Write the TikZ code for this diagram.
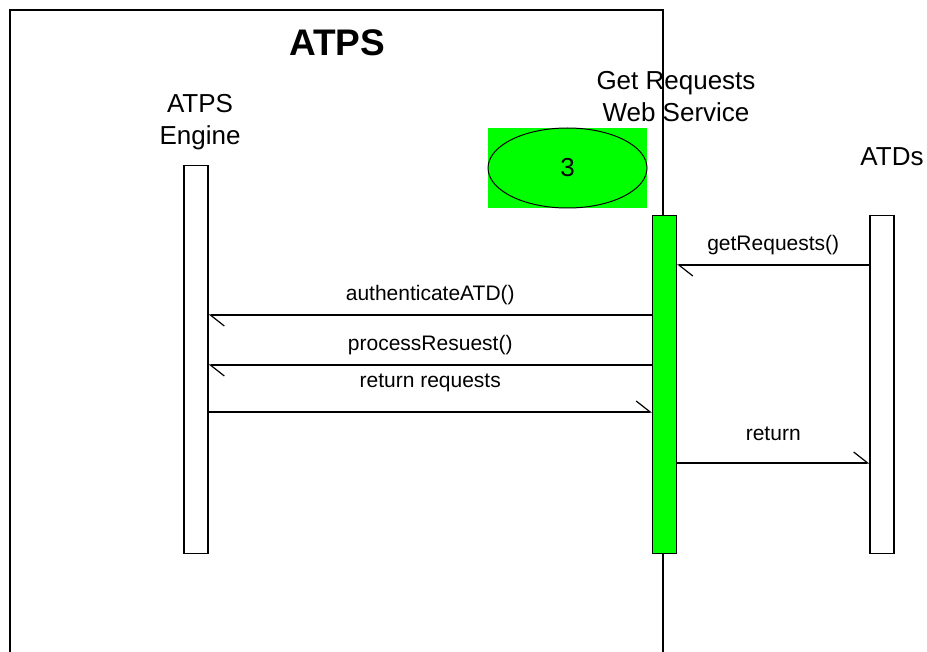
\documentclass[tikz,border=0pt]{standalone}
\usepackage{fontspec}
\setmainfont{Liberation Sans}
\usetikzlibrary{shapes.geometric, arrows.meta}
\definecolor{gwsgreen}{RGB}{0,255,0}

\begin{document}
\begin{tikzpicture}[
  x=1pt, y=-1pt,
  line width=1.2pt,
  lifeline/.style={
    draw, fill=white, anchor=north,
    minimum width=24pt, minimum height=388pt, inner sep=0pt
  },
  active/.style={lifeline, fill=gwsgreen, minimum height=338pt},
  msg/.style={-{Straight Barb[left, length=14pt, width=22pt]}},
  lbl/.style={font=\fontsize{21}{25}\selectfont, midway, yshift=20pt},
  head/.style={font=\fontsize{26}{32}\selectfont, align=center}
]
\useasboundingbox (0,0) rectangle (927,652);

% system frame, open at the bottom
\draw (10,652) -- (10,10) -- (663,10) -- (663,652);
\node[font=\bfseries\fontsize{37}{44}\selectfont] (title) at (337,43) {ATPS};

% heads
\node[head] (enginehead) at (200,122) {ATPS\\Engine};
\node[head] (gwshead) at (676,97) {Get Requests\\Web Service};
\node[head] (atdshead) at (892,157) {ATDs};

% step marker
\node[fill=gwsgreen, minimum width=159pt, minimum height=80pt] (marker) at (567.5,168) {};
\node[draw, ellipse, fill=gwsgreen, line width=1pt, inner sep=0pt,
  minimum width=159pt, minimum height=80pt,
  font=\fontsize{26}{32}\selectfont] (step) at (567.5,168) {3};

% lifelines
\node[lifeline] (engine) at (196,165) {};
\node[active] (gws) at (664.5,215) {};
\node[lifeline, minimum height=338pt] (atds) at (882,215) {};

% messages
\draw[msg] (atds.west |- 0,265) -- (gws.east |- 0,265) node[lbl] {getRequests()};
\draw[msg] (gws.west |- 0,315) -- (engine.east |- 0,315) node[lbl] {authenticateATD()};
\draw[msg] (gws.west |- 0,365) -- (engine.east |- 0,365) node[lbl] {processResuest()};
\draw[msg] (engine.east |- 0,412) -- (gws.west |- 0,412) node[lbl, yshift=9pt] {return requests};
\draw[msg] (gws.east |- 0,463) -- (atds.west |- 0,463) node[lbl, yshift=9pt] {return};
\end{tikzpicture}
\end{document}
